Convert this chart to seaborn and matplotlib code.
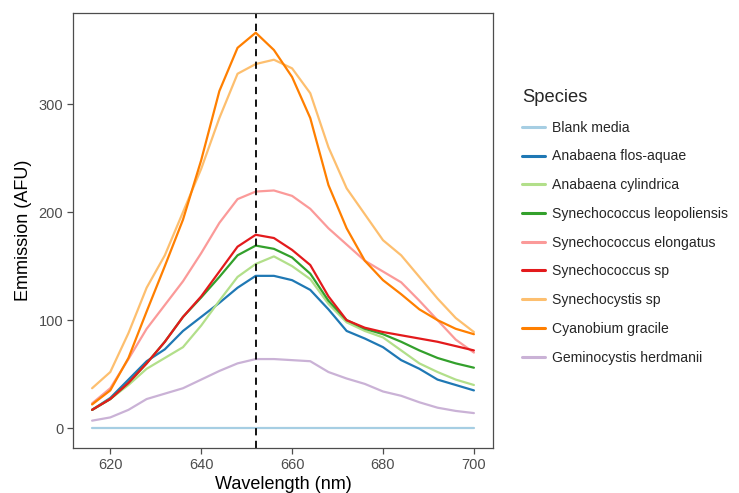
import numpy as np
import pandas as pd
import matplotlib
matplotlib.use("Agg")
import matplotlib.pyplot as plt
import seaborn as sns

wavelength = [616, 620, 624, 628, 632, 636, 640, 644, 648, 652, 656,
              660, 664, 668, 672, 676, 680, 684, 688, 692, 696, 700]

species = ["Blank media", "Anabaena flos-aquae", "Anabaena cylindrica",
           "Synechococcus leopoliensis", "Synechococcus elongatus",
           "Synechococcus sp", "Synechocystis sp", "Cyanobium gracile",
           "Geminocystis herdmanii"]

blank_media = [0] * 22
anabaena_flos_aquae = [17, 28, 45, 62, 73, 90, 103, 116, 130, 141, 141,
                       137, 128, 110, 90, 83, 75, 63, 55, 45, 40, 35]
anabaena_cylindrica = [17, 27, 40, 55, 65, 75, 95, 118, 140, 152, 159,
                       150, 138, 115, 98, 90, 84, 72, 60, 52, 45, 40]
syn_leopoliensis = [17, 27, 42, 60, 80, 103, 121, 140, 160, 169, 166,
                    158, 143, 118, 100, 92, 87, 80, 72, 65, 60, 56]
syn_elongatus = [23, 37, 64, 92, 114, 136, 162, 190, 212, 219, 220,
                 215, 203, 185, 170, 155, 145, 135, 118, 100, 82, 70]
syn_sp = [17, 27, 42, 60, 80, 103, 122, 145, 168, 179, 176,
          165, 151, 122, 100, 93, 89, 86, 83, 80, 76, 72]
synechocystis_sp = [37, 52, 88, 130, 160, 200, 240, 287, 328, 337, 341,
                    333, 310, 260, 222, 198, 174, 160, 140, 120, 102, 89]
cyanobium_gracile = [22, 35, 65, 108, 150, 193, 248, 312, 352, 366, 350,
                     325, 287, 225, 185, 155, 137, 124, 110, 100, 92, 87]
geminocystis_herdmanii = [7, 10, 17, 27, 32, 37, 45, 53, 60, 64, 64,
                          63, 62, 52, 46, 41, 34, 30, 24, 19, 16, 14]

series = [blank_media, anabaena_flos_aquae, anabaena_cylindrica,
          syn_leopoliensis, syn_elongatus, syn_sp, synechocystis_sp,
          cyanobium_gracile, geminocystis_herdmanii]

peak_wavelength = 652

df = pd.DataFrame({
    "Wavelength": np.tile(wavelength, len(species)),
    "Emission": np.concatenate([np.array(s, dtype=float) for s in series]),
    "Species": np.repeat(species, len(wavelength)),
})

sns.set_style("white")
plt.rcParams["font.family"] = ["Liberation Sans", "DejaVu Sans"]

fig = plt.figure(figsize=(7.39, 4.93), dpi=100)
ax = fig.add_axes([73 / 739, 1 - 448 / 493, (493 - 73) / 739, (448 - 12.6) / 493])

palette = sns.color_palette("Paired", 9)
sns.lineplot(data=df, x="Wavelength", y="Emission", hue="Species",
             hue_order=species, palette=palette, linewidth=1.6, ax=ax,
             legend=True)

ax.axvline(peak_wavelength, color="black", linestyle=(0, (4, 3)), linewidth=1.3)

ax.set_xlim(611.8, 704.2)
ax.set_ylim(-18.3, 384.6)
ax.set_xticks([620, 640, 660, 680, 700])
ax.set_yticks([0, 100, 200, 300])
ax.set_xlabel("Wavelength (nm)", fontsize=13, color="black", labelpad=3)
ax.set_ylabel("Emmission (AFU)", fontsize=13, color="black", labelpad=5)

for sp in ax.spines.values():
    sp.set_color("#4d4d4d")
    sp.set_linewidth(0.9)
ax.tick_params(axis="both", which="major", direction="out", length=4,
               width=0.9, color="#4d4d4d", labelsize=10.5, labelcolor="#4d4d4d",
               bottom=True, left=True, pad=3)
ax.grid(False)

handles, labels = ax.get_legend_handles_labels()
for h in handles:
    h.set_linewidth(2.2)
leg = ax.legend(handles, labels, title="Species", loc="center left",
                bbox_to_anchor=(0.699, 0.54), bbox_transform=fig.transFigure,
                frameon=False, fontsize=10.1, title_fontsize=13.2,
                handlelength=1.6, handletextpad=0.55, labelspacing=1.05,
                borderaxespad=0)
leg._legend_box.align = "left"

fig.savefig("out.png", dpi=100)
